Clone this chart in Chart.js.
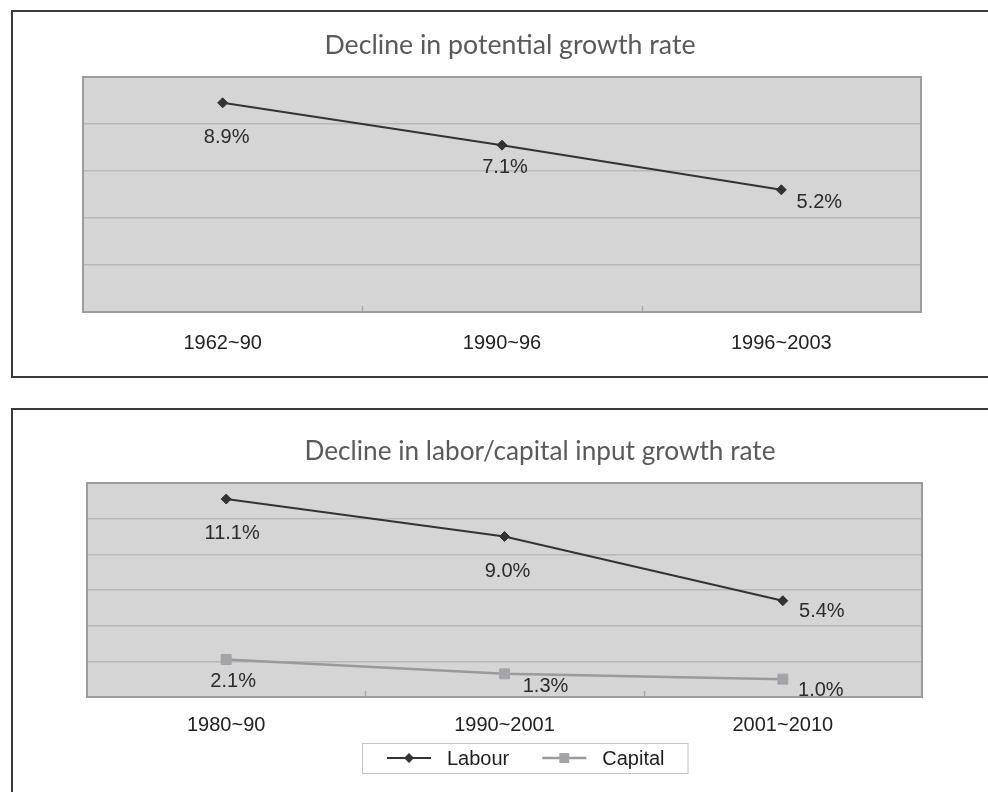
<!DOCTYPE html>
<html>
<head>
<meta charset="utf-8">
<script src="https://cdn.jsdelivr.net/npm/chart.js@4.4.1/dist/chart.umd.min.js"></script>
<style>
  html, body { margin: 0; padding: 0; background: #fff; width: 988px; height: 792px; overflow: hidden; position: relative; }
  .frame { position: absolute; border: 2px solid #3a3a3a; box-sizing: border-box; }
  #f1 { left: 11px; top: 10px; width: 1010px; height: 368px; }
  #f2 { left: 11px; top: 408px; width: 1010px; height: 420px; }
  canvas { position: absolute; left: 0; }
  #c1 { top: 0; }
  #c2 { top: 392px; }
</style>
</head>
<body>
<div class="frame" id="f1"></div>
<div class="frame" id="f2"></div>
<canvas id="c1" width="988" height="392"></canvas>
<canvas id="c2" width="988" height="400"></canvas>
<script>
// Potential growth rate by period (%)
const potentialPeriods = ['1962~90', '1990~96', '1996~2003'];
const potentialGrowth = [8.9, 7.1, 5.2];

// Labour and capital input growth rate by period (%)
const inputPeriods = ['1980~90', '1990~2001', '2001~2010'];
const labourGrowth = [11.1, 9.0, 5.4];
const capitalGrowth = [2.1, 1.3, 1.0];

const seriesNames = ['Labour', 'Capital'];
const chartTitles = ['Decline in potential growth rate', 'Decline in labor/capital input growth rate'];

const LABEL_FONT = '20px "Liberation Sans", Arial, sans-serif';
const TITLE_FAMILY = 'Lato, "Open Sans", sans-serif';

// Grey plot panel, its frame and the small category-boundary ticks
const plotPanel = {
  id: 'plotPanel',
  beforeDraw(chart, args, o) {
    const { ctx, chartArea: a } = chart;
    ctx.save();
    ctx.fillStyle = o.fill;
    ctx.fillRect(a.left, a.top, a.width, a.height);
    ctx.restore();
  },
  beforeDatasetsDraw(chart, args, o) {
    const { ctx, chartArea: a } = chart;
    const x = chart.scales.x;
    ctx.save();
    ctx.strokeStyle = o.tickColor;
    ctx.lineWidth = 1.5;
    for (let i = 0; i < x.ticks.length - 1; i++) {
      const px = Math.round(x.getPixelForValue(i + 0.5)) + 0.5;
      ctx.beginPath();
      ctx.moveTo(px, a.bottom);
      ctx.lineTo(px, a.bottom - 6);
      ctx.stroke();
    }
    ctx.strokeStyle = o.border;
    ctx.lineWidth = 2;
    ctx.strokeRect(a.left, a.top, a.width, a.height);
    ctx.restore();
  }
};

// Value labels next to each point, text taken from the data
const valueLabels = {
  id: 'valueLabels',
  afterDatasetsDraw(chart) {
    const ctx = chart.ctx;
    ctx.save();
    ctx.font = LABEL_FONT;
    ctx.fillStyle = '#2b2b2b';
    ctx.textAlign = 'center';
    ctx.textBaseline = 'middle';
    chart.data.datasets.forEach((ds, di) => {
      const meta = chart.getDatasetMeta(di);
      meta.data.forEach((pt, i) => {
        const off = ds.labelOffsets[i];
        ctx.fillText(ds.data[i].toFixed(1) + '%', pt.x + off[0], pt.y + off[1]);
      });
    });
    ctx.restore();
  }
};

// Chart heading
const panelTitle = {
  id: 'panelTitle',
  afterDraw(chart, args, o) {
    const ctx = chart.ctx;
    ctx.save();
    ctx.font = o.font;
    ctx.fillStyle = o.color;
    ctx.textAlign = 'center';
    ctx.textBaseline = 'middle';
    ctx.fillText(o.text, o.x, o.y);
    ctx.restore();
  }
};

function drawMarker(ctx, style, r, cx, cy) {
  ctx.beginPath();
  if (style === 'rectRot') {
    ctx.moveTo(cx - r, cy); ctx.lineTo(cx, cy - r); ctx.lineTo(cx + r, cy); ctx.lineTo(cx, cy + r);
    ctx.closePath();
  } else {
    const s = Math.SQRT1_2 * r;
    ctx.rect(cx - s, cy - s, 2 * s, 2 * s);
  }
  ctx.fill();
}

// Boxed legend with line-and-marker samples
const boxedLegend = {
  id: 'boxedLegend',
  afterDraw(chart, args, o) {
    if (!o.show) return;
    const ctx = chart.ctx;
    ctx.save();
    ctx.font = LABEL_FONT;
    ctx.textBaseline = 'middle';
    ctx.textAlign = 'left';
    const cy = o.top + o.height / 2;
    let x = o.left + o.padLeft;
    chart.data.datasets.forEach((ds, i) => {
      ctx.strokeStyle = ds.borderColor;
      ctx.lineWidth = ds.borderWidth;
      ctx.beginPath();
      ctx.moveTo(x, cy);
      ctx.lineTo(x + o.lineLen, cy);
      ctx.stroke();
      ctx.fillStyle = ds.pointBackgroundColor;
      drawMarker(ctx, ds.pointStyle, ds.pointRadius, x + o.lineLen / 2, cy);
      x += o.lineLen + o.textGap;
      ctx.fillStyle = '#1e1e1e';
      ctx.fillText(ds.label, x, cy + 1);
      x += ctx.measureText(ds.label).width;
      if (i < chart.data.datasets.length - 1) x += o.itemGap;
    });
    const w = x + o.padRight - o.left;
    ctx.strokeStyle = '#c4c4c4';
    ctx.lineWidth = 1;
    ctx.strokeRect(o.left + 0.5, o.top + 0.5, w, o.height);
    ctx.restore();
  }
};

function makeChart(canvasId, labels, datasets, cfg) {
  return new Chart(document.getElementById(canvasId), {
    type: 'line',
    data: { labels, datasets },
    plugins: [plotPanel, valueLabels, panelTitle, boxedLegend],
    options: {
      responsive: false,
      animation: false,
      devicePixelRatio: 1,
      layout: { padding: cfg.padding },
      plugins: {
        legend: { display: false },
        title: { display: false },
        tooltip: { enabled: false },
        plotPanel: { fill: '#d5d5d5', border: '#9c9c9c', tickColor: '#a8a8a8' },
        panelTitle: cfg.title,
        boxedLegend: cfg.legend
      },
      scales: {
        x: {
          offset: true,
          grid: { display: false },
          border: { display: false },
          ticks: {
            color: '#222',
            font: { family: '"Liberation Sans", Arial, sans-serif', size: 20 },
            padding: cfg.tickPad,
            maxRotation: 0,
            autoSkip: false
          },
          afterFit(scale) { scale.height = cfg.xHeight; }
        },
        y: {
          min: 0,
          max: cfg.yMax,
          ticks: { display: false, stepSize: 2 },
          grid: { color: '#b8b8b8', lineWidth: 1.5, drawTicks: false },
          border: { display: false },
          afterFit(scale) { scale.width = 0; }
        }
      }
    }
  });
}

makeChart('c1', potentialPeriods, [{
  label: 'Potential growth',
  data: potentialGrowth,
  borderColor: '#333',
  borderWidth: 2,
  tension: 0,
  pointStyle: 'rectRot',
  pointRadius: 5,
  pointBackgroundColor: '#333',
  pointBorderColor: '#333',
  pointBorderWidth: 1,
  labelOffsets: [[4, 35], [3, 22], [38, 13]]
}], {
  padding: { left: 83, right: 67, top: 77, bottom: 0 },
  xHeight: 80,
  tickPad: 11,
  yMax: 10,
  title: { text: chartTitles[0], x: 510, y: 45, font: '26.7px ' + TITLE_FAMILY, color: '#5a5a5a' },
  legend: { show: false }
});

makeChart('c2', inputPeriods, [{
  label: seriesNames[0],
  data: labourGrowth,
  borderColor: '#333',
  borderWidth: 2,
  tension: 0,
  pointStyle: 'rectRot',
  pointRadius: 5,
  pointBackgroundColor: '#333',
  pointBorderColor: '#333',
  pointBorderWidth: 1,
  labelOffsets: [[6, 34], [3, 35], [39, 11]]
}, {
  label: seriesNames[1],
  data: capitalGrowth,
  borderColor: '#9a9a9a',
  borderWidth: 2.5,
  tension: 0,
  pointStyle: 'rect',
  pointRadius: 7,
  pointBackgroundColor: '#a3a3a8',
  pointBorderColor: '#a3a3a8',
  pointBorderWidth: 1,
  labelOffsets: [[7, 22], [41, 13], [38, 11]]
}], {
  padding: { left: 87, right: 66, top: 91, bottom: 0 },
  xHeight: 95,
  tickPad: 8,
  yMax: 12,
  title: { text: chartTitles[1], x: 540, y: 60, font: '26.2px ' + TITLE_FAMILY, color: '#5a5a5a' },
  legend: { show: true, left: 362, top: 351, height: 30, padLeft: 25, lineLen: 44, textGap: 16, itemGap: 33, padRight: 23 }
});
</script>
</body>
</html>
